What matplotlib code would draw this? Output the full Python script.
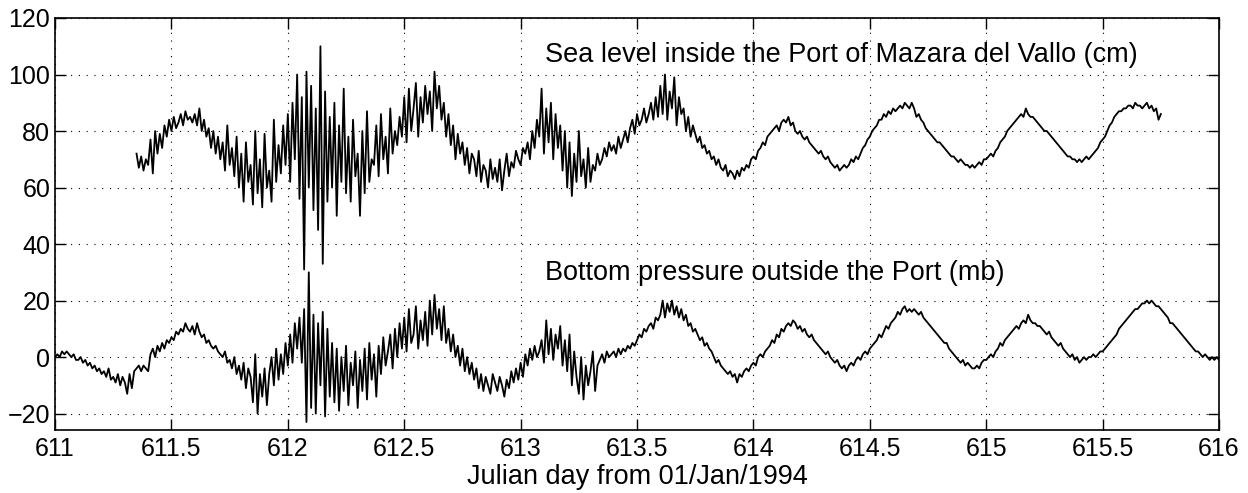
import numpy as np
import matplotlib
matplotlib.use('Agg')
import matplotlib.pyplot as plt
from matplotlib.ticker import FormatStrFormatter

plt.rcParams['font.family'] = ['Liberation Sans', 'DejaVu Sans']

# sampling step of both records (days)
dt = 0.01

# bottom pressure outside the port (mb), 611.00 -> 616.00
bp_start = 611.0
bp_vals = [
    0, 1, 0, 2, 1, 2, 1, 0, 1, -1,             # 611.0
    -1, 0, -2, -1, -3, -2, -4, -3, -5, -4,     # 611.1
    -6, -5, -7, -4, -8, -7, -9, -6, -10, -7,   # 611.2
    -9, -13, -6, -11, -5, -4, -3, -5, -3, -4,  # 611.3
    -5, 1, 3, 0, 4, 2, 5, 3, 6, 5,             # 611.4
    7, 6, 9, 8, 10, 9, 12, 10, 9, 11,          # 611.5
    8, 12, 9, 7, 8, 5, 6, 4, 3, 4,             # 611.6
    2, 1, 0, 2, -2, -1, -4, 0, -6, -3,         # 611.7
    -8, -2, -11, -4, -7, -16, 1, -20, -6, -14, # 611.8
    -4, -17, -6, 0, -10, 3, -8, 1, -6, 5,      # 611.9
    -3, 8, -2, 12, 3, 14, -2, 17, -23, 30,     # 612.0
    -18, 15, -20, 12, -10, 16, -21, 10, -14, 5,
    -16, 3, -19, 0, -12, 4, -17, -2, -10, 2,
    -18, -1, -12, 3, -15, 5, -8, 1, -14, 4,
    -6, 7, -3, 2, 8, -4, 10, 0, 12, 3,
    14, 2, 17, 5, 8, 18, 3, 13, 6, 16,         # 612.5
    4, 20, 8, 22, 10, 17, 6, 18, 5, 10,
    2, 8, 0, 4, -3, 3, -5, 0, -6, -2,
    -8, -4, -11, -6, -12, -7, -10, -13, -6, -9,
    -12, -7, -10, -14, -8, -11, -5, -9, -4, -8,
    -2, -7, 1, -3, 3, -1, 4, 0, 2, 6,          # 613.0
    -2, 13, 1, 10, -1, 8, 3, 11, -3, 6,
    -5, 8, -10, 2, -7, -13, 0, -15, -3, -10,
    -5, 2, -12, -3, -1, 1, -2, 2, 0, 1,
    2, 0, 3, 1, 3, 2, 4, 3, 5, 4,
    6, 8, 7, 10, 9, 11, 12, 10, 14, 13,        # 613.5
    15, 20, 14, 19, 16, 20, 15, 18, 14, 17,
    13, 15, 11, 12, 9, 10, 8, 6, 7, 4,
    5, 3, 2, 0, -2, -1, -3, -4, -5, -6,
    -5, -7, -6, -9, -6, -7, -5, -4, -5, -3,
    -2, -3, 0, 1, 0, 2, 3, 4, 6, 5,            # 614.0
    8, 7, 10, 9, 11, 12, 11, 13, 12, 10,
    11, 9, 10, 8, 7, 8, 6, 5, 4, 3,
    2, 1, 2, 0, -1, -2, -1, -3, -4, -3,
    -5, -3, -2, -3, -1, 0, -1, 1, 2, 1,
    3, 4, 5, 6, 8, 7, 9, 11, 10, 12,           # 614.5
    13, 14, 16, 15, 17, 18, 16, 17, 16, 17,
    16, 15, 16, 14, 13, 12, 11, 10, 9, 8,
    7, 6, 5, 5, 3, 2, 1, 0, -1, -2,
    -1, -3, -2, -3, -4, -4, -3, -4, -2, -1,
    -1, 0, 1, 0, 2, 3, 5, 4, 6, 7,             # 615.0
    8, 9, 10, 11, 10, 12, 13, 12, 15, 13,
    12, 12, 11, 11, 10, 9, 8, 9, 7, 6,
    5, 4, 5, 3, 2, 1, 0, 1, -1, 0,
    -2, -1, 0, -1, 0, 0, 1, 0, 1, 2,
    2, 3, 4, 5, 6, 7, 8, 10, 11, 12,           # 615.5
    13, 14, 15, 16, 17, 17, 18, 19, 19, 20,
    19, 20, 19, 18, 18, 17, 16, 15, 14, 12,
    12, 11, 10, 9, 8, 7, 6, 5, 4, 3,
    2, 2, 1, 0, 1, 0, -1, 0, -1, 0,
    -1,                                         # 616.0
]

# sea level inside the port (cm), 611.35 -> 615.75
sl_start = 611.35
sl_vals = [
    72, 67, 71, 66, 70,                         # 611.35
    68, 77, 65, 80, 72, 79, 74, 82, 78, 84,     # 611.4
    80, 85, 81, 83, 86, 82, 87, 84, 85, 83,
    86, 82, 88, 80, 84, 78, 81, 74, 80, 72,
    78, 70, 76, 66, 82, 68, 74, 64, 78, 60,
    72, 55, 76, 62, 68, 54, 80, 58, 70, 53,
    79, 60, 66, 55, 84, 62, 75, 65, 82, 68,
    86, 62, 90, 70, 100, 56, 92, 31, 101, 60,   # 612.0
    96, 52, 88, 45, 110, 33, 94, 55, 85, 60,
    90, 50, 82, 62, 95, 58, 78, 55, 84, 64,
    72, 50, 80, 58, 87, 62, 70, 68, 82, 64,
    86, 70, 78, 65, 88, 72, 80, 75, 85, 78,
    92, 76, 95, 80, 88, 97, 78, 92, 83, 96,     # 612.5
    86, 94, 80, 101, 88, 96, 84, 90, 78, 86,
    75, 82, 70, 79, 72, 76, 68, 74, 65, 72,
    70, 64, 73, 62, 68, 66, 60, 70, 63, 67,
    62, 70, 59, 66, 72, 64, 69, 67, 73, 70,
    68, 74, 72, 76, 70, 80, 74, 84, 78, 95,     # 613.0
    72, 88, 76, 90, 70, 86, 74, 82, 66, 80,
    60, 76, 57, 72, 62, 80, 64, 70, 60, 74,
    62, 68, 66, 72, 68, 70, 74, 71, 76, 73,
    75, 72, 78, 74, 77, 80, 76, 81, 84, 79,
    86, 82, 84, 88, 83, 86, 90, 84, 92, 85,     # 613.5
    96, 86, 100, 84, 94, 88, 99, 82, 92, 86,
    88, 80, 85, 78, 82, 79, 76, 78, 74, 75,
    72, 73, 70, 71, 68, 70, 67, 66, 68, 64,
    66, 65, 63, 66, 64, 67, 66, 68, 67, 70,
    71, 70, 73, 74, 76, 75, 78, 79, 80, 81,     # 614.0
    82, 80, 83, 84, 83, 85, 82, 83, 80, 79,
    80, 78, 77, 78, 76, 75, 74, 73, 72, 73,
    71, 70, 71, 69, 68, 67, 68, 66, 67, 68,
    67, 68, 70, 69, 71, 70, 72, 74, 75, 77,
    78, 80, 81, 82, 84, 84, 86, 85, 87, 86,     # 614.5
    88, 87, 88, 89, 88, 90, 89, 88, 90, 88,
    85, 86, 84, 83, 81, 80, 79, 78, 77, 76,
    76, 75, 74, 73, 72, 71, 71, 70, 69, 70,
    69, 68, 68, 67, 68, 67, 68, 69, 68, 70,
    70, 71, 72, 71, 73, 74, 76, 77, 78, 80,     # 615.0
    81, 82, 83, 84, 85, 86, 85, 88, 86, 85,
    85, 84, 83, 82, 81, 80, 80, 79, 78, 77,
    76, 75, 74, 73, 72, 71, 71, 70, 70, 69,
    70, 69, 70, 71, 70, 71, 72, 73, 74, 76,
    77, 78, 80, 82, 83, 85, 86, 87, 87, 88,     # 615.5
    88, 89, 89, 88, 90, 89, 89, 88, 89, 90,
    88, 89, 87, 88, 84, 86,
]

xticks = [611, 611.5, 612, 612.5, 613, 613.5, 614, 614.5, 615, 615.5, 616]
yticks = [-20, 0, 20, 40, 60, 80, 100, 120]

bp_t = bp_start + dt * np.arange(len(bp_vals))
sl_t = sl_start + dt * np.arange(len(sl_vals))

fig = plt.figure(figsize=(12.48, 4.93), dpi=100)
ax = fig.add_axes([0.0441, 0.1278, 0.9327, 0.8357])

ax.plot(sl_t, sl_vals, color='black', lw=1.3)
ax.plot(bp_t, bp_vals, color='black', lw=1.3)

ax.set_xlim(611, 616)
ax.set_ylim(-25.8, 120)
ax.set_xticks(xticks)
ax.set_yticks(yticks)
ax.xaxis.set_major_formatter(FormatStrFormatter('%g'))
ax.grid(True, color='black', linestyle=(0, (1, 6)), linewidth=0.8)
ax.tick_params(direction='in', length=8, width=1, top=True, right=True,
               labelsize=18, pad=5)
ax.tick_params(axis='y', pad=3.5)
for s in ax.spines.values():
    s.set_linewidth(1.2)

ax.text(613.105, 106.9, 'Sea level inside the Port of Mazara del Vallo (cm)',
        fontsize=19.5, va='center', ha='left')
ax.text(613.105, 29.7, 'Bottom pressure outside the Port (mb)',
        fontsize=19.5, va='center', ha='left')
ax.set_xlabel('Julian day from 01/Jan/1994', fontsize=19.5, labelpad=2)

fig.savefig('out.png', dpi=100)
